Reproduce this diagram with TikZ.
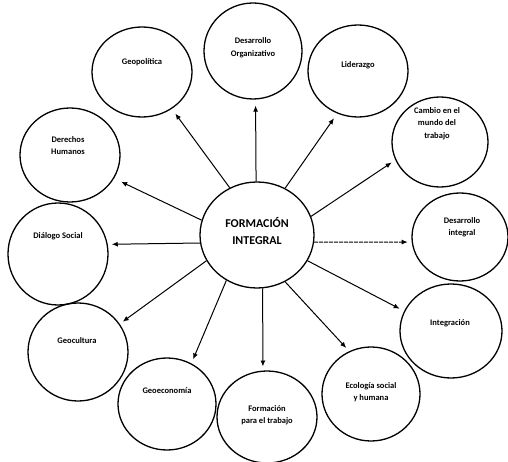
\documentclass[tikz,border=0pt]{standalone}
\usepackage{fontspec}
\setmainfont{Carlito}
\usetikzlibrary{shapes.geometric,arrows.meta}
\begin{document}
\begin{tikzpicture}[x=1pt,y=-1pt,
  bubble/.style={draw,ellipse,line width=1.3pt,inner sep=0pt},
  lbl/.style={font=\bfseries\fontsize{8.5}{12.5}\selectfont,align=center,inner sep=0pt},
  conn/.style={line width=1pt,-{Latex[length=6pt,width=5pt]}},
]
\useasboundingbox[fill=white] (0,0) rectangle (508,462);
% central node
\node[bubble,minimum width=114pt,minimum height=106pt] (C) at (257,235) {};
\node[font=\bfseries\fontsize{12}{17}\selectfont,align=center,inner sep=0pt] (Ct) at (257,231.5) {FORMACIÓN\\INTEGRAL};
% outer circles
\node[bubble,minimum width=100pt,minimum height=90pt] (geo) at (142,72) {};
\node[bubble,minimum width=98pt,minimum height=96pt] (dor) at (253,51) {};
\node[bubble,minimum width=100pt,minimum height=92pt] (lid) at (358,71) {};
\node[bubble,minimum width=96pt,minimum height=90pt] (cam) at (440,142) {};
\node[bubble,minimum width=96pt,minimum height=88pt] (din) at (460,237) {};
\node[bubble,minimum width=102pt,minimum height=94pt] (int) at (451,331) {};
\node[bubble,minimum width=98pt,minimum height=94pt] (eco) at (371,394) {};
\node[bubble,minimum width=100pt,minimum height=92pt] (for) at (267,417) {};
\node[bubble,minimum width=98pt,minimum height=92pt] (gec) at (167,404) {};
\node[bubble,minimum width=100pt,minimum height=98pt] (gcu) at (78,352) {};
\node[bubble,minimum width=100pt,minimum height=102pt] (dia) at (58,254) {};
\node[bubble,minimum width=100pt,minimum height=94pt] (der) at (70,155) {};
% labels
\node[lbl] (geot) at (142,62) {Geopolítica};
\node[lbl] (dort) at (253,47.5) {Desarrollo\\Organizativo};
\node[lbl] (lidt) at (358,65) {Liderazgo};
\node[lbl] (camt) at (437,123.5) {Cambio en el\\mundo del\\trabajo};
\node[lbl] (dint) at (462,227) {Desarrollo\\integral};
\node[lbl] (intt) at (450,323) {Integración};
\node[lbl] (ecot) at (371,392) {Ecología social\\y humana};
\node[lbl] (fort) at (267,415) {Formación\\para el trabajo};
\node[lbl] (gect) at (167,391) {Geoeconomía};
\node[lbl] (gcut) at (77,341) {Geocultura};
\node[lbl] (diat) at (58,236) {Diálogo Social};
\node[lbl] (dert) at (68,145.5) {Derechos\\Humanos};
% connectors
\draw[conn,shorten >=5.8pt] (C.120) -- (geo.-51);
\draw[conn,shorten >=6pt] (C.91) -- (dor.-87);
\draw[conn,shorten >=5.7pt] (C.59.5) -- (lid.-116);
\draw[conn,shorten >=4.4pt] (C.19.7) -- (cam.202.6);
\draw[conn,shorten >=4pt,dash pattern=on 4pt off 1pt] (C.-7.6) -- (din.186.6);
\draw[conn,shorten >=5pt] (C.-27) -- (int.157.6);
\draw[conn,shorten >=4.4pt] (C.-59) -- (eco.117.6);
\draw[conn,shorten >=4pt] (C.-84.6) -- (for.95.7);
\draw[conn,shorten >=4.3pt] (C.236.6) -- (gec.59.4);
\draw[conn,shorten >=3.7pt] (C.207.8) -- (gcu.34.3);
\draw[conn,shorten >=4pt] (C.188) -- (dia.11.7);
\draw[conn,shorten >=7.8pt] (C.165.3) -- (der.-28.4);
\end{tikzpicture}
\end{document}
